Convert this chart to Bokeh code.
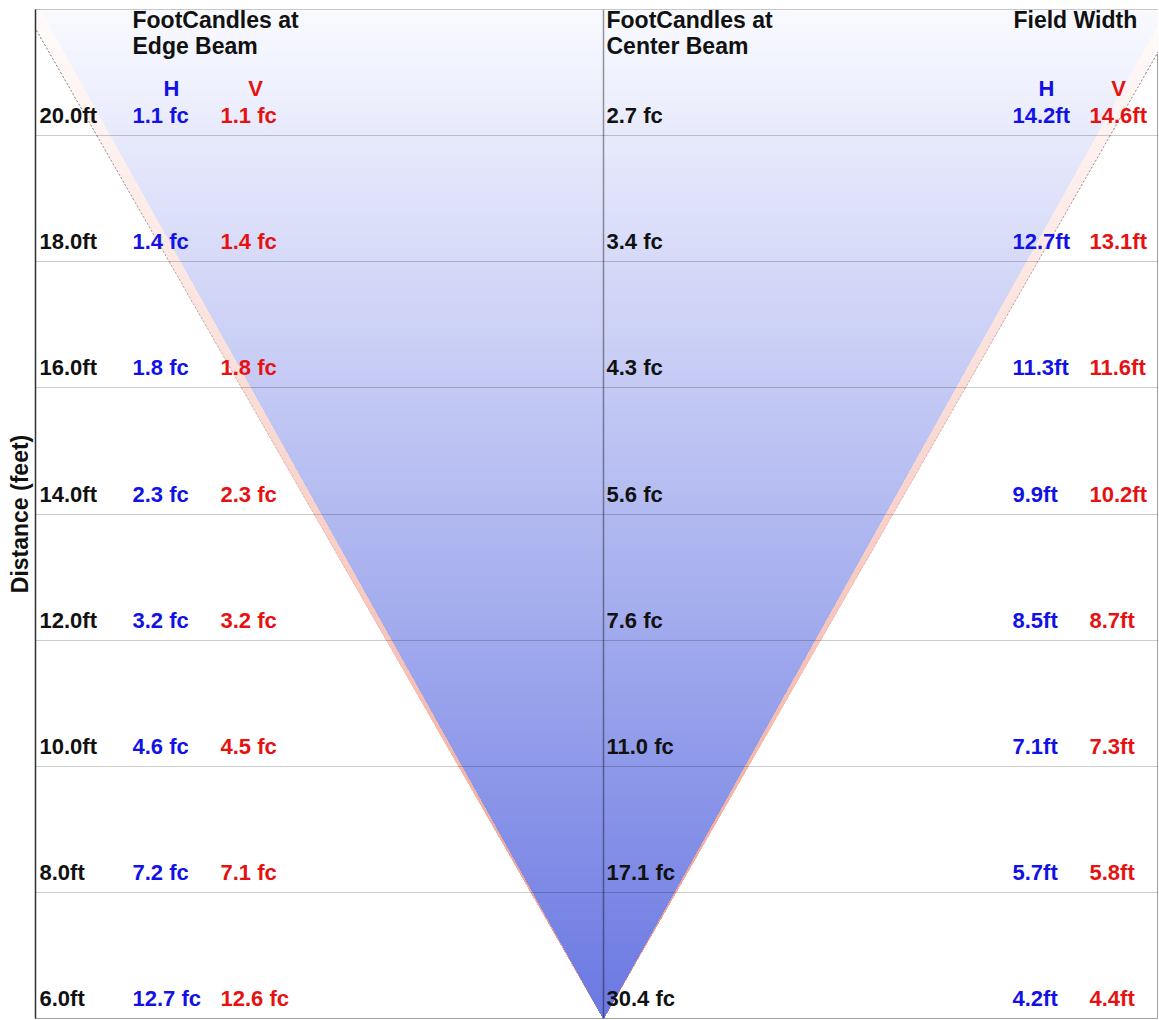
from bokeh.plotting import figure
from bokeh.models import Range1d, FixedTicker, ColumnDataSource
from bokeh.embed import file_html
from bokeh.resources import INLINE
from bokeh.core.properties import value

# ---------------- data ----------------
distances = [6.0, 8.0, 10.0, 12.0, 14.0, 16.0, 18.0, 20.0]
edge_fc_h = [12.7, 7.2, 4.6, 3.2, 2.3, 1.8, 1.4, 1.1]
edge_fc_v = [12.6, 7.1, 4.5, 3.2, 2.3, 1.8, 1.4, 1.1]
center_fc = [30.4, 17.1, 11.0, 7.6, 5.6, 4.3, 3.4, 2.7]
width_h = [4.2, 5.7, 7.1, 8.5, 9.9, 11.3, 12.7, 14.2]
width_v = [4.4, 5.8, 7.3, 8.7, 10.2, 11.6, 13.1, 14.6]

# ---------------- layout constants ----------------
FONT = value("Liberation Sans")
BLUE = "#1212e6"
RED = "#e61212"
BLACK = "#111111"
Y_MIN, Y_MAX = 6.0, 22.0
PX_PER_FT = 69.4          # drawing scale of the beam cone (layout units per ft)

p = figure(width=1158, height=1019, x_range=Range1d(-568, 555), y_range=Range1d(Y_MIN, Y_MAX),
           output_backend="svg", toolbar_location=None, x_axis_location=None,
           min_border_left=35, min_border_right=0, min_border_top=9, min_border_bottom=1)
p.background_fill_color = "white"
p.border_fill_color = "white"
p.outline_line_color = "#a0a0a0"
p.xgrid.visible = False
p.ygrid.visible = False

ax = p.yaxis[0]
ax.ticker = FixedTicker(ticks=[])
ax.major_tick_out = 0
ax.major_tick_in = 0
ax.minor_tick_out = 0
ax.minor_tick_in = 0
ax.major_label_standoff = 0
ax.axis_label = "Distance (feet)"
ax.axis_label_standoff = 3
ax.axis_label_text_font = "Liberation Sans"
ax.axis_label_text_font_style = "bold"
ax.axis_label_text_font_size = "23px"
ax.axis_label_text_color = BLACK
ax.axis_line_color = "#303030"
ax.axis_line_width = 1.5

# ---------------- beam cones (gradient via nested triangles) ----------------
def cone(width_top, top_col, bot_col, gamma=1.0, n=220):
    base, top_row = distances[0], distances[-1]
    xs, ys, cols = [], [], []
    for k in range(n):
        yk = Y_MAX - k * (Y_MAX - base) / n
        hw = (yk - base) / (top_row - base) * (width_top / 2.0) * PX_PER_FT
        t = ((yk - base) / (Y_MAX - base)) ** gamma
        c = tuple(int(round(b + (a - b) * t)) for a, b in zip(top_col, bot_col))
        xs.append([-hw, hw, 0.0])
        ys.append([yk, yk, base])
        cols.append("#%02x%02x%02x" % c)
    return xs, ys, cols

xs, ys, cols = cone(width_v[-1], (255, 251, 250), (236, 128, 108), gamma=0.6)
p.patches(xs, ys, fill_color=cols, line_color=None)
xs, ys, cols = cone(width_h[-1], (249, 250, 255), (106, 120, 226))
p.patches(xs, ys, fill_color=cols, line_color=None)

# faint dashed outline on the outer (V) cone edge, fading downward
seg_x, seg_y, seg_a = [], [], []
nseg = 10
for s in range(nseg):
    y0 = Y_MAX - s * 1.0
    y1 = y0 - 1.0
    for sign in (-1, 1):
        h0 = (y0 - distances[0]) / (distances[-1] - distances[0]) * width_v[-1] / 2 * PX_PER_FT
        h1 = (y1 - distances[0]) / (distances[-1] - distances[0]) * width_v[-1] / 2 * PX_PER_FT
        seg_x.append([sign * h0, sign * h1])
        seg_y.append([y0, y1])
        seg_a.append(0.7 * (1 - s / nseg))
p.multi_line(seg_x, seg_y, line_color="#404040", line_alpha=seg_a, line_width=1, line_dash="2 2")

# grid lines and centre line on top of the cone
p.hspan(y=distances[1:], line_color="black", line_alpha=0.2, line_width=1)
p.vspan(x=[0], line_color="black", line_alpha=0.4, line_width=1.5)

# ---------------- texts ----------------
src = ColumnDataSource(dict(
    y=distances,
    dist=[f"{d:.1f}ft" for d in distances],
    eh=[f"{v:.1f} fc" for v in edge_fc_h],
    ev=[f"{v:.1f} fc" for v in edge_fc_v],
    cc=[f"{v:.1f} fc" for v in center_fc],
    wh=[f"{v:.1f}ft" for v in width_h],
    wv=[f"{v:.1f}ft" for v in width_v],
))

def col(x, field, color, size="22px"):
    p.text(x=x, y="y", text=field, source=src, text_font=FONT, text_font_style="bold",
           text_font_size=size, text_color=color, text_align="left",
           text_baseline="alphabetic", y_offset=-20)

col(-564, "dist", BLACK)
col(-471, "eh", BLUE)
col(-383, "ev", RED)
col(3, "cc", BLACK)
col(409, "wh", BLUE)
col(486, "wv", RED)

# column headers
hdr_x = [-471, -471, 3, 3, 410]
hdr_txt = ["FootCandles at", "Edge Beam", "FootCandles at", "Center Beam", "Field Width"]
hdr_off = [10, 36, 10, 36, 10]
p.text(x=hdr_x, y=[Y_MAX] * len(hdr_x), text=hdr_txt, y_offset=hdr_off,
       text_font=FONT, text_font_style="bold", text_font_size="23px", text_color=BLACK,
       text_align="left", text_baseline="alphabetic")

hv_x = [-432, -348, 443, 515]
hv_txt = ["H", "V", "H", "V"]
hv_col = [BLUE, RED, BLUE, RED]
p.text(x=hv_x, y=[distances[-1]] * 4, text=hv_txt, y_offset=-47,
       text_font=FONT, text_font_style="bold", text_font_size="22px", text_color=hv_col,
       text_align="center", text_baseline="alphabetic")

open("out.html", "w").write(file_html(p, INLINE))
